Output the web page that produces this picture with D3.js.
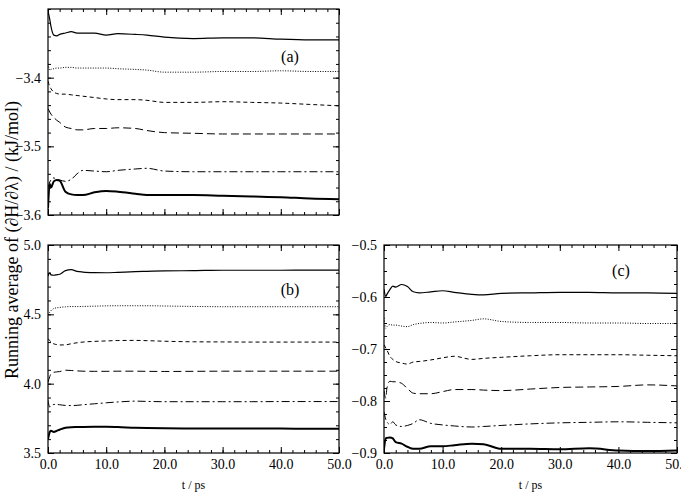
<!DOCTYPE html>
<html lang="en">
<head>
<meta charset="UTF-8">
<script src="https://d3js.org/d3.v7.min.js"></script>
<style>
  body { margin: 0; background: #fff; }
  svg text { font-family: "Liberation Serif", "Times New Roman", serif; fill: #000; }
  .axis path { display: none; }
  .axis line { stroke: #000; stroke-width: 1; }
</style>
</head>
<body>
<svg width="681" height="492"></svg>
<script>
// time points (ps) shared by all curves
var times = [0, 0.3, 0.5, 1, 1.5, 2, 3, 4, 5, 6, 8, 10, 12, 15, 17, 20, 25, 30, 35, 40, 45, 50];
var xTicks = [0, 10, 20, 30, 40, 50];

// panel (a)
var a1 = [-3.303,-3.315,-3.325,-3.338,-3.339,-3.337,-3.335,-3.333,-3.335,-3.335,-3.335,-3.338,-3.336,-3.337,-3.338,-3.341,-3.343,-3.342,-3.342,-3.344,-3.345,-3.345];
var a2 = [-3.380,-3.389,-3.388,-3.387,-3.386,-3.386,-3.385,-3.385,-3.386,-3.386,-3.386,-3.386,-3.387,-3.388,-3.389,-3.392,-3.392,-3.391,-3.391,-3.390,-3.391,-3.391];
var a3 = [-3.405,-3.413,-3.416,-3.421,-3.423,-3.424,-3.424,-3.425,-3.426,-3.427,-3.429,-3.431,-3.432,-3.432,-3.433,-3.436,-3.436,-3.435,-3.436,-3.437,-3.439,-3.441];
var a4 = [-3.445,-3.450,-3.453,-3.458,-3.462,-3.465,-3.472,-3.474,-3.476,-3.476,-3.474,-3.474,-3.473,-3.474,-3.477,-3.480,-3.481,-3.482,-3.482,-3.482,-3.482,-3.482];
var a5 = [-3.560,-3.552,-3.549,-3.546,-3.548,-3.549,-3.551,-3.548,-3.540,-3.535,-3.536,-3.537,-3.535,-3.533,-3.532,-3.536,-3.537,-3.537,-3.537,-3.537,-3.537,-3.537];
var a6 = [-3.590,-3.555,-3.560,-3.551,-3.549,-3.550,-3.566,-3.570,-3.571,-3.571,-3.567,-3.565,-3.566,-3.569,-3.571,-3.571,-3.571,-3.572,-3.573,-3.574,-3.576,-3.577];
var aTicks = [-3.6, -3.5, -3.4];

// panel (b)
var b1 = [4.777,4.800,4.785,4.782,4.785,4.789,4.815,4.822,4.810,4.805,4.801,4.800,4.803,4.808,4.810,4.813,4.815,4.818,4.818,4.818,4.819,4.819];
var b2 = [4.495,4.515,4.526,4.542,4.547,4.550,4.554,4.556,4.556,4.557,4.559,4.561,4.562,4.562,4.562,4.560,4.557,4.555,4.555,4.555,4.555,4.555];
var b3 = [4.325,4.310,4.303,4.287,4.282,4.279,4.280,4.288,4.295,4.300,4.305,4.308,4.311,4.312,4.310,4.306,4.302,4.301,4.300,4.300,4.300,4.300];
var b4 = [4.010,4.050,4.070,4.082,4.085,4.087,4.097,4.095,4.092,4.090,4.089,4.089,4.090,4.090,4.089,4.088,4.089,4.090,4.090,4.090,4.090,4.090];
var b5 = [3.880,3.831,3.838,3.850,3.850,3.848,3.843,3.842,3.844,3.848,3.855,3.862,3.868,3.874,3.872,3.870,3.870,3.870,3.870,3.871,3.871,3.871];
var b6 = [3.600,3.650,3.660,3.652,3.660,3.668,3.682,3.686,3.687,3.688,3.689,3.689,3.687,3.682,3.680,3.678,3.677,3.676,3.676,3.676,3.675,3.675];
var bTicks = [3.5, 4.0, 4.5, 5.0];

// panel (c)
var c1 = [-0.585,-0.599,-0.595,-0.586,-0.579,-0.581,-0.576,-0.580,-0.590,-0.592,-0.590,-0.588,-0.591,-0.595,-0.596,-0.593,-0.592,-0.591,-0.591,-0.592,-0.592,-0.593];
var c2 = [-0.640,-0.660,-0.657,-0.653,-0.654,-0.654,-0.656,-0.657,-0.653,-0.651,-0.649,-0.650,-0.648,-0.645,-0.642,-0.647,-0.649,-0.649,-0.650,-0.650,-0.651,-0.651];
var c3 = [-0.692,-0.698,-0.702,-0.714,-0.720,-0.724,-0.727,-0.729,-0.725,-0.724,-0.721,-0.717,-0.714,-0.720,-0.718,-0.716,-0.713,-0.711,-0.711,-0.711,-0.712,-0.713];
var c4 = [-0.780,-0.795,-0.775,-0.762,-0.763,-0.763,-0.766,-0.776,-0.785,-0.786,-0.786,-0.782,-0.778,-0.778,-0.779,-0.780,-0.777,-0.774,-0.773,-0.772,-0.769,-0.771];
var c5 = [-0.821,-0.835,-0.840,-0.845,-0.840,-0.846,-0.849,-0.847,-0.843,-0.836,-0.843,-0.846,-0.848,-0.850,-0.849,-0.847,-0.844,-0.842,-0.841,-0.840,-0.841,-0.842];
var c6 = [-0.892,-0.872,-0.871,-0.870,-0.872,-0.879,-0.882,-0.888,-0.892,-0.892,-0.887,-0.887,-0.885,-0.882,-0.883,-0.892,-0.892,-0.893,-0.891,-0.895,-0.896,-0.895];
var cTicks = [-0.9, -0.8, -0.7, -0.6, -0.5];

// line styles, top curve to bottom curve
var styles = [
  {dash: null, w: 1.2},
  {dash: "1,1.5", w: 1},
  {dash: "4,3", w: 1},
  {dash: "8,4", w: 1},
  {dash: "8,3,2,3", w: 1},
  {dash: null, w: 2}
];

var svg = d3.select("svg");
var fmt = function(d) { return d3.format(".1f")(d).replace("-", "\u2212"); };

function panel(id, box, ydom, yTicks, yMinor, series, label, labelPos, showXLabels) {
  var x = d3.scaleLinear().domain([0, 50]).range([box.x0, box.x1]);
  var y = d3.scaleLinear().domain(ydom).range([box.y1, box.y0]);
  var g = svg.append("g");

  g.append("clipPath").attr("id", "clip" + id)
    .append("rect").attr("x", box.x0).attr("y", box.y0)
    .attr("width", box.x1 - box.x0).attr("height", box.y1 - box.y0);

  var xMinor = d3.range(0, 50.01, 2);
  // inward ticks on all four sides
  g.append("g").attr("class", "axis").attr("transform", "translate(0," + box.y1 + ")")
    .call(d3.axisBottom(x).tickValues(xTicks).tickSizeInner(-6).tickSizeOuter(0).tickPadding(6)
      .tickFormat(showXLabels ? fmt : ""))
    .selectAll("text").attr("font-size", 14);
  g.append("g").attr("class", "axis").attr("transform", "translate(0," + box.y1 + ")")
    .call(d3.axisBottom(x).tickValues(xMinor).tickSizeInner(-3).tickSizeOuter(0).tickFormat(""));
  g.append("g").attr("class", "axis").attr("transform", "translate(0," + box.y0 + ")")
    .call(d3.axisTop(x).tickValues(xTicks).tickSizeInner(-6).tickSizeOuter(0).tickFormat(""));
  g.append("g").attr("class", "axis").attr("transform", "translate(0," + box.y0 + ")")
    .call(d3.axisTop(x).tickValues(xMinor).tickSizeInner(-3).tickSizeOuter(0).tickFormat(""));

  g.append("g").attr("class", "axis").attr("transform", "translate(" + box.x0 + ",0)")
    .call(d3.axisLeft(y).tickValues(yTicks).tickSizeInner(-6).tickSizeOuter(0).tickPadding(7).tickFormat(fmt))
    .selectAll("text").attr("font-size", 14);
  g.append("g").attr("class", "axis").attr("transform", "translate(" + box.x0 + ",0)")
    .call(d3.axisLeft(y).tickValues(yMinor).tickSizeInner(-3).tickSizeOuter(0).tickFormat(""));
  g.append("g").attr("class", "axis").attr("transform", "translate(" + box.x1 + ",0)")
    .call(d3.axisRight(y).tickValues(yTicks).tickSizeInner(-6).tickSizeOuter(0).tickFormat(""));
  g.append("g").attr("class", "axis").attr("transform", "translate(" + box.x1 + ",0)")
    .call(d3.axisRight(y).tickValues(yMinor).tickSizeInner(-3).tickSizeOuter(0).tickFormat(""));

  var line = d3.line()
    .x(function(d, i) { return x(times[i]); })
    .y(function(d) { return y(d); })
    .curve(d3.curveMonotoneX);

  series.forEach(function(s, k) {
    g.append("path")
      .attr("d", line(s))
      .attr("clip-path", "url(#clip" + id + ")")
      .attr("fill", "none")
      .attr("stroke", "#000")
      .attr("stroke-width", styles[k].w)
      .attr("stroke-dasharray", styles[k].dash);
  });

  g.append("rect").attr("x", box.x0).attr("y", box.y0)
    .attr("width", box.x1 - box.x0).attr("height", box.y1 - box.y0)
    .attr("fill", "none").attr("stroke", "#000").attr("stroke-width", 1.2);

  g.append("text").attr("x", labelPos[0]).attr("y", labelPos[1])
    .attr("text-anchor", "middle").attr("font-size", 16).text(label);

  if (showXLabels) {
    g.append("text").attr("x", (box.x0 + box.x1) / 2).attr("y", 489)
      .attr("text-anchor", "middle").attr("font-size", 12).text("t / ps");
  }
}

panel("a", {x0: 48, x1: 339, y0: 9, y1: 215}, [-3.6, -3.3], aTicks, d3.range(-3.6, -3.299, 0.02),
  [a1, a2, a3, a4, a5, a6], "(a)", [290, 62], false);
panel("b", {x0: 48, x1: 339, y0: 245, y1: 453}, [3.5, 5.0], bTicks, d3.range(3.5, 5.001, 0.1),
  [b1, b2, b3, b4, b5, b6], "(b)", [290, 295], true);
panel("c", {x0: 384, x1: 677, y0: 245, y1: 453}, [-0.9, -0.5], cTicks, d3.range(-0.9, -0.499, 0.025),
  [c1, c2, c3, c4, c5, c6], "(c)", [621, 276], true);

svg.append("text")
  .attr("transform", "translate(18,240) rotate(-90)")
  .attr("text-anchor", "middle")
  .attr("font-size", 18)
  .text("Running average of (\u2202H/\u2202\u03bb) / (kJ/mol)");
</script>
</body>
</html>
